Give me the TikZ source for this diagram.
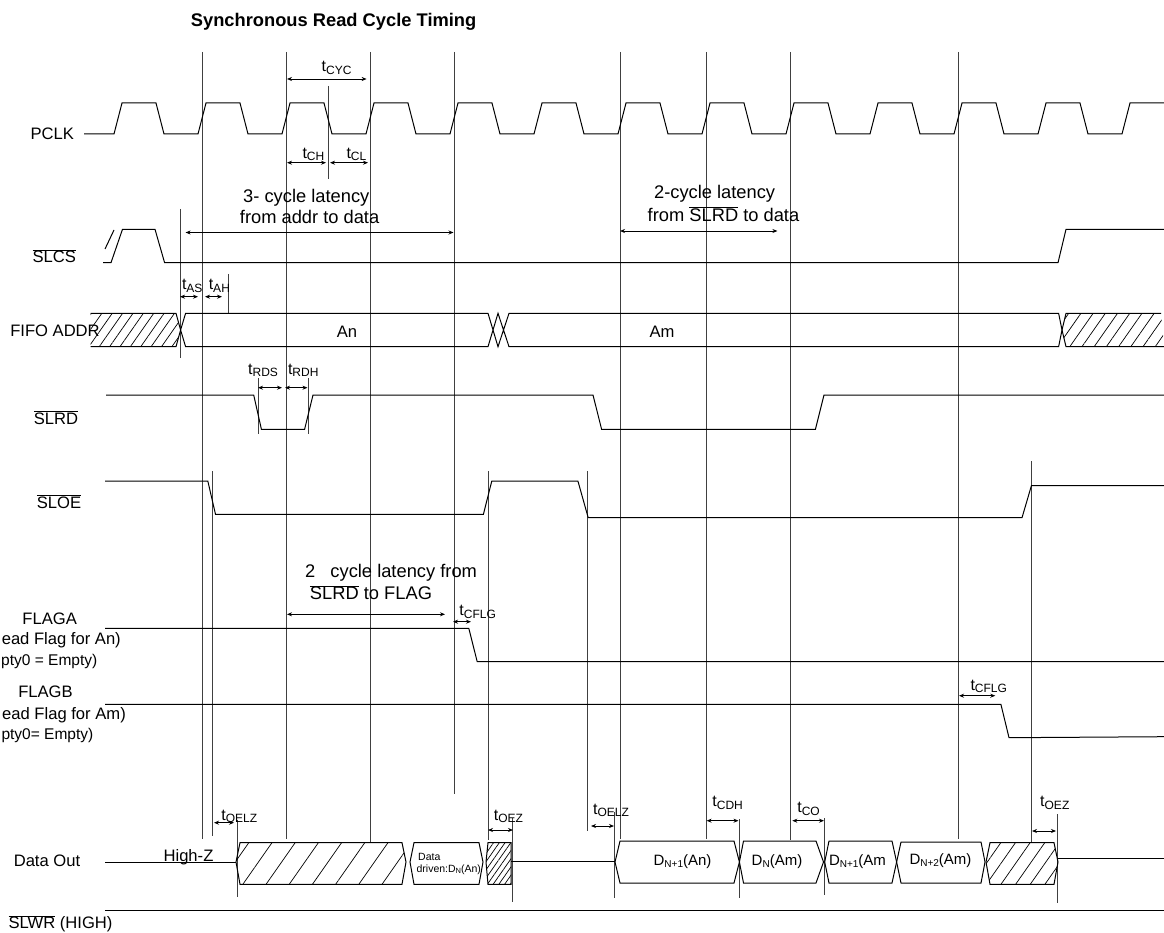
\documentclass[tikz,border=0pt]{standalone}
\usepackage{fontspec}
\setmainfont{Liberation Sans}
\usetikzlibrary{arrows.meta,patterns.meta}

\newcommand{\tlab}[1]{t\raisebox{-2.5pt}{\fontsize{12}{12}\selectfont #1}}
\newcommand{\dsub}[2]{D\raisebox{-2.5pt}{\fontsize{10}{10}\selectfont #1}#2}
\newcommand{\ovl}[1]{$\overline{\mbox{#1}}$}

\tikzset{
  sig/.style={line width=1pt},
  gridline/.style={line width=0.7pt, black!75},
  dimarrow/.style={line width=0.8pt, {Stealth[length=5pt,width=4pt]}-{Stealth[length=5pt,width=4pt]}},
  lbl/.style={font=\fontsize{16.6}{19}\selectfont, inner sep=0pt, anchor=base},
  note/.style={font=\fontsize{18.3}{21}\selectfont, inner sep=0pt, anchor=base},
  tnote/.style={font=\fontsize{16}{18}\selectfont, inner sep=0pt, anchor=base west},
  boxtxt/.style={font=\fontsize{15}{17}\selectfont, inner sep=0pt, anchor=base},
  hatch/.style={pattern={Lines[angle=55,distance=#1,line width=0.7pt]}},
}

\begin{document}
\begin{tikzpicture}[x=1pt,y=-1pt]
  \useasboundingbox (0,0) rectangle (1164,933);
  % title and signal names
  \node[note, font=\fontsize{18.3}{21}\selectfont\bfseries] (title) at (333.6,26.6) {Synchronous Read Cycle Timing};
  \node[lbl] (pclk) at (52.3,139.3) {PCLK};
  \node[lbl] (slcs) at (54.2,263) {\ovl{SLCS}};
  \node[lbl] (addr) at (55,336.7) {FIFO ADDR};
  \node[lbl] (slrd) at (56,424.3) {\ovl{SLRD}};
  \node[lbl] (sloe) at (59,508.3) {\ovl{SLOE}};
  \node[lbl] (flaga) at (49.7,624.3) {FLAGA};
  \node[lbl, anchor=base east] (flagaa) at (121,644.3) {ead Flag for An)};
  \node[lbl, anchor=base east, font=\fontsize{15.5}{18}\selectfont] (flagab) at (97.5,665.5) {pty0 = Empty)};
  \node[lbl] (flagb) at (45.5,697.7) {FLAGB};
  \node[lbl, anchor=base east] (flagba) at (126,719.3) {ead Flag for Am)};
  \node[lbl, anchor=base east, font=\fontsize{15.5}{18}\selectfont] (flagbb) at (93.5,739) {pty0= Empty)};
  \node[lbl] (dout) at (47,866) {Data Out};
  \node[lbl, anchor=base west] (slwr) at (8.4,928.7) {\ovl{SLWR} (HIGH)};

  % vertical reference lines
  \foreach \x/\b in {202/839, 286/839, 370/842, 454/794, 620/839, 706/839, 790/840, 958/839}{
    \draw[gridline] (\x,52) -- (\x,\b);
  }
  \foreach \x/\a/\b in {180/209/358, 228/274/313, 258/378/434, 308.5/378/434, 328.4/86/179,
      212.4/471/836, 237.3/820/897, 488/471/840, 512.8/818/902, 587.5/471/831,
      614.6/812/898, 739.4/819/898, 824.7/818/895, 1031.4/461/842, 1057.8/814/903}{
    \draw[gridline] (\x,\a) -- (\x,\b);
  }

  % PCLK
  \draw[sig] (84,134) \foreach \g in {118,202,...,1042}{
      -- ({\g-4},134) -- ({\g+4},103) -- ({\g+38},103) -- ({\g+46},134)}
    -- (1122,134) -- (1130,103) -- (1164,103);

  % SLCS
  \draw[sig] (103,262.7) -- (111,262.7) -- (122.5,229.3) -- (155,229.3) -- (164.6,262.7)
    -- (1058,262.7) -- (1066,229.3) -- (1164,229.3);
  \draw[sig] (105,249) -- (114,230);

  % FIFO ADDR
  \draw[sig, hatch=8.5pt] (90.7,313.3) -- (176,313.3) -- (180.6,330) -- (176,346.7) -- (90.7,346.7);
  \draw[sig] (180.6,330) -- (185.6,313.3) -- (488,313.3) -- (498,346.7) -- (509,313.3)
    -- (1058.6,313.3) -- (1062,330) -- (1058.6,346.7) -- (509,346.7) -- (498,313.3)
    -- (488,346.7) -- (185.6,346.7) -- cycle;
  \draw[sig, hatch=10pt] (1161,313.3) -- (1066,313.3) -- (1062,330) -- (1066,346.7) -- (1164,346.7);
  \node[lbl] (an) at (347,337.7) {An};
  \node[lbl] (am) at (662,337.7) {Am};

  % SLRD
  \draw[sig] (106,395) -- (253.7,395) -- (261.4,429.3) -- (304.6,429.3) -- (313,395)
    -- (593,395) -- (601.6,429.3) -- (815.4,429.3) -- (824,395) -- (1164,395);

  % SLOE
  \draw[sig] (105.2,481) -- (207.8,481) -- (215.5,514.3) -- (483.4,514.3) -- (491.8,481)
    -- (577.9,481) -- (588.2,517.7) -- (1022,517.7) -- (1031.4,485.7) -- (1164,485.7);

  % FLAGA, FLAGB
  \draw[sig] (105,628.3) -- (468.8,628.3) -- (477.2,661.7) -- (1164,661.7);
  \draw[sig] (105,704.3) -- (1000.9,704.3) -- (1009,737.7) -- (1164,736.7);

  % Data Out
  \draw[sig] (105,862) -- (236,862);
  \draw[sig, hatch=19pt] (236,862) -- (240,842.7) -- (402,842.7) -- (406,862) -- (402,884.3) -- (240,884.3) -- cycle;
  \draw[sig] (410,862) -- (414,842.7) -- (479,842.7) -- (483,862) -- (479,884.3) -- (414,884.3) -- cycle;
  \draw[sig, hatch=4.7pt] (486,862) -- (488,842.7) -- (511,842.7) -- (511,884.3) -- (488,884.3) -- cycle;
  \draw[sig] (511,861) -- (615,861);
  \draw[sig] (615,862) -- (620,841) -- (734,841) -- (739.4,862) -- (734,883) -- (620,883) -- cycle;
  \draw[sig] (739.4,862) -- (743.5,841) -- (816,841) -- (823.5,862) -- (816,883) -- (743.5,883) -- cycle;
  \draw[sig] (824.7,862) -- (829,841) -- (892,841) -- (896.6,862) -- (892,883) -- (829,883) -- cycle;
  \draw[sig] (896.6,862) -- (901,842) -- (981,842) -- (985,862) -- (981,883) -- (901,883) -- cycle;
  \draw[sig, hatch=12pt] (986,862) -- (990,842.7) -- (1054,842.7) -- (1058,862) -- (1054,884.3) -- (990,884.3) -- cycle;
  \draw[sig] (1058,858) -- (1164,858);
  \node[lbl] (highz) at (188.5,861) {High-Z};
  \node[inner sep=0pt, anchor=base west, font=\fontsize{10.5}{12}\selectfont] (drv1) at (418,860.5) {Data};
  \node[inner sep=0pt, anchor=base west, font=\fontsize{10.5}{12}\selectfont] (drv2) at (416.4,872)
    {driven:D\raisebox{-1.5pt}{\fontsize{7.5}{8}\selectfont N}(An)};
  \node[boxtxt] (dn1an) at (682.5,865) {\dsub{N+1}{(An)}};
  \node[boxtxt] (dnam) at (777,865) {\dsub{N}{(Am)}};
  \node[boxtxt, anchor=base west] (dn1am) at (828.8,865) {\dsub{N+1}{(Am}};
  \node[boxtxt] (dn2am) at (940.5,864) {\dsub{N+2}{(Am)}};

  % SLWR
  \draw[sig] (105,910.7) -- (1164,910.7);

  % latency notes
  \node[note] (lat3a) at (306.3,202.6) {3- cycle latency};
  \node[note] (lat3b) at (309.6,223.9) {from addr to data};
  \node[note] (lat2a) at (714.6,198.9) {2-cycle latency};
  \node[note] (lat2b) at (723.5,221.6) {from \ovl{SLRD} to data};
  \node[note] (latfa) at (391,577.3) {2\ \ \ cycle latency from};
  \node[note] (latfb) at (371,599.9) {\ovl{SLRD} to FLAG};
  \draw[dimarrow] (185.6,232.5) -- (453.5,232.5);
  \draw[dimarrow] (620,231) -- (777.4,231);
  \draw[dimarrow] (287,614.3) -- (445,614.3);

  % timing parameters
  \node[tnote] (tcyc) at (321.5,71.7) {\tlab{CYC}};
  \node[tnote] (tch) at (302.3,158.3) {\tlab{CH}};
  \node[tnote] (tcl) at (346.3,158.3) {\tlab{CL}};
  \node[tnote] (tas) at (181.8,290) {\tlab{AS}};
  \node[tnote] (tah) at (208.6,290) {\tlab{AH}};
  \node[tnote] (trds) at (248,374.3) {\tlab{RDS}};
  \node[tnote] (trdh) at (287.8,374.3) {\tlab{RDH}};
  \node[tnote] (tcflga) at (459.2,615.7) {\tlab{CFLG}};
  \node[tnote] (tcflgb) at (970.3,690) {\tlab{CFLG}};
  \node[tnote] (toelza) at (221.2,820) {\tlab{OELZ}};
  \node[tnote] (toeza) at (493.7,820) {\tlab{OEZ}};
  \node[tnote] (toelzb) at (593,814) {\tlab{OELZ}};
  \node[tnote] (tcdh) at (712.2,806.7) {\tlab{CDH}};
  \node[tnote] (tco) at (797.1,812.7) {\tlab{CO}};
  \node[tnote] (toezb) at (1040,806.7) {\tlab{OEZ}};
  \draw[dimarrow] (287,79) -- (366.6,79);
  \draw[dimarrow] (287,162.7) -- (326,162.7);
  \draw[dimarrow] (330,162.7) -- (368,162.7);
  \draw[dimarrow] (180,296.7) -- (198,296.7);
  \draw[dimarrow] (205,296.7) -- (222,296.7);
  \draw[dimarrow] (258,387.7) -- (282,387.7);
  \draw[dimarrow] (285,387.7) -- (307.5,387.7);
  \draw[dimarrow] (453,621.7) -- (471,621.7);
  \draw[dimarrow] (959,695.7) -- (995.3,695.7);
  \draw[dimarrow] (214,822.7) -- (234,822.7);
  \draw[dimarrow] (488,830) -- (513,830);
  \draw[dimarrow] (591,826) -- (614,826);
  \draw[dimarrow] (706.6,820.7) -- (738.5,820.7);
  \draw[dimarrow] (792.3,820.7) -- (824,820.7);
  \draw[dimarrow] (1032,831) -- (1056,831);
\end{tikzpicture}
\end{document}
